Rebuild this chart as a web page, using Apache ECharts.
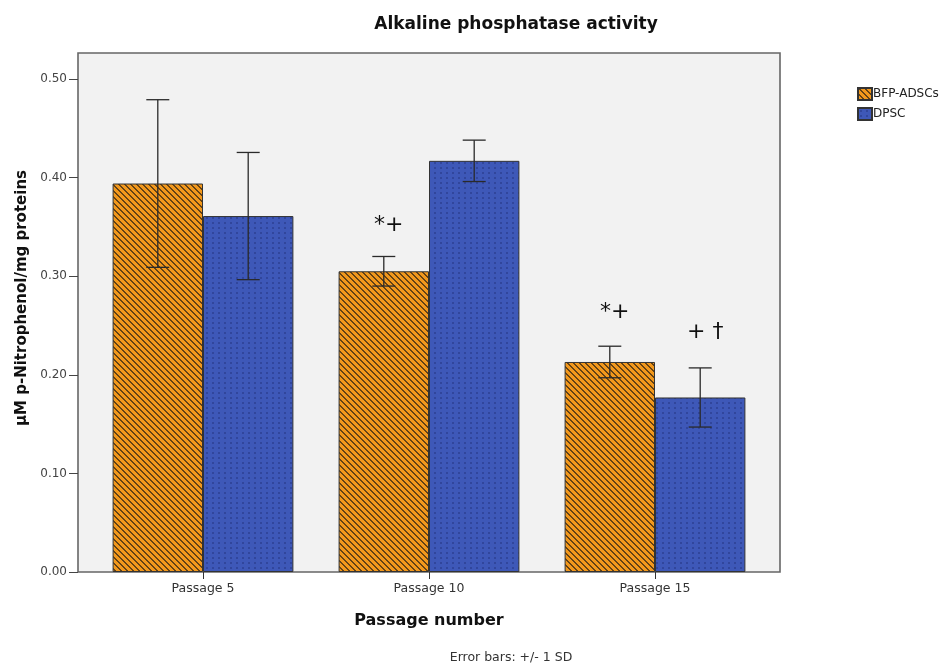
<!DOCTYPE html>
<html>
<head>
<meta charset="utf-8">
<script src="https://cdn.jsdelivr.net/npm/echarts@6/dist/echarts.min.js"></script>
<style>html,body{margin:0;padding:0;background:#fff;}#c{width:951px;height:666px;}</style>
</head>
<body>
<div id="c"></div>
<script>
// ---- data ----
var categories = ['Passage 5', 'Passage 10', 'Passage 15'];
var seriesNames = ['BFP-ADSCs', 'DPSC'];
var bfpMean = [0.394, 0.305, 0.213];
var bfpSD   = [0.085, 0.015, 0.016];
var dpscMean = [0.361, 0.417, 0.177];
var dpscSD   = [0.0645, 0.021, 0.030];
var yTicks = [0, 0.1, 0.2, 0.3, 0.4, 0.5];
// significance marks: [category index, series index, value, text]
var annotCat = [1, 2, 2];
var annotSeries = [0, 0, 1];
var annotValue = [0.352, 0.263, 0.243];
var annotText = ['*+', '*+', '+ \u2020'];

// ---- patterns ----
function stripePattern() {
  var n = 6, c = document.createElement('canvas');
  c.width = n; c.height = n;
  var ctx = c.getContext('2d');
  var img = ctx.createImageData(n, n);
  for (var y = 0; y < n; y++) for (var x = 0; x < n; x++) {
    var k = (y * n + x) * 4;
    var d = ((x - y) % n + n) % n;
    var dark = d < 2;
    img.data[k] = dark ? 100 : 242;
    img.data[k+1] = dark ? 66 : 152;
    img.data[k+2] = dark ? 22 : 28;
    img.data[k+3] = 255;
  }
  ctx.putImageData(img, 0, 0);
  return c;
}
function dotPattern() {
  var w = 6, h = 5, c = document.createElement('canvas');
  c.width = w; c.height = h;
  var ctx = c.getContext('2d');
  ctx.fillStyle = '#3e58b8';
  ctx.fillRect(0, 0, w, h);
  ctx.fillStyle = '#31469c';
  ctx.fillRect(2, 2, 2, 2);
  return c;
}
var orangeFill = { image: stripePattern(), repeat: 'repeat' };
var blueFill = { image: dotPattern(), repeat: 'repeat' };

var means = [bfpMean, dpscMean];
var sds = [bfpSD, dpscSD];
var errData = [];
for (var s = 0; s < 2; s++) for (var i = 0; i < categories.length; i++) {
  errData.push([i, means[s][i] - sds[s][i], means[s][i] + sds[s][i], s]);
}
var annData = [];
for (var a = 0; a < annotCat.length; a++) annData.push([annotCat[a], annotValue[a], annotSeries[a], annotText[a]]);

var FONT = 'DejaVu Sans, Liberation Sans, sans-serif';
var chart = echarts.init(document.getElementById('c'), null, {renderer: 'canvas'});
chart.setOption({
  animation: false,
  backgroundColor: '#fff',
  title: {
    text: 'Alkaline phosphatase activity',
    left: 511, top: 11, textAlign: 'center',
    textStyle: {fontFamily: FONT, fontSize: 17, fontWeight: 'bold', color: '#111'}
  },
  legend: {
    orient: 'vertical', left: 857, top: 87, padding: 0,
    itemWidth: 14, itemHeight: 12, itemGap: 6, icon: 'rect',
    textStyle: {fontFamily: FONT, fontSize: 12, color: '#222', padding: [0, 0, 0, -4]},
    data: seriesNames
  },
  graphic: [
    {type: 'rect', z: -10, silent: true,
     shape: {x: 78, y: 53, width: 702, height: 519},
     style: {fill: '#f2f2f2', stroke: '#666', lineWidth: 1.6}},
    {type: 'text', silent: true, x: 511, y: 658,
     style: {text: 'Error bars: +/- 1 SD', align: 'center', verticalAlign: 'middle',
             fontFamily: FONT, fontSize: 12.5, fill: '#333'}},
    {type: 'text', silent: true, x: 22, y: 298, rotation: Math.PI / 2,
     style: {text: '\u03bcM p-Nitrophenol/mg proteins', align: 'center', verticalAlign: 'middle',
             fontFamily: FONT, fontSize: 15, fontWeight: 'bold', fill: '#111'}}
  ],
  grid: {left: 90, right: 183, top: 79, bottom: 94},
  xAxis: {
    type: 'category', data: categories,
    axisLine: {show: false},
    axisTick: {show: true, alignWithLabel: true, length: 7, lineStyle: {color: '#333'}},
    axisLabel: {fontFamily: FONT, fontSize: 12.5, color: '#333', margin: 10},
    name: 'Passage number', nameLocation: 'middle', nameGap: 41,
    nameTextStyle: {fontFamily: FONT, fontSize: 16, fontWeight: 'bold', color: '#111'}
  },
  yAxis: {
    type: 'value', min: 0, max: 0.5, interval: 0.1, offset: 12,
    axisLine: {show: false},
    axisTick: {show: true, length: 9, lineStyle: {color: '#444'}},
    splitLine: {show: false},
    axisLabel: {fontFamily: FONT, fontSize: 12, color: '#444', margin: 11,
      formatter: function (v) { return v.toFixed(2); }}
  },
  series: [
    {name: seriesNames[0], type: 'bar', data: bfpMean, barWidth: '40%', barGap: '0%',
     itemStyle: {color: orangeFill, borderColor: '#333', borderWidth: 1}},
    {name: seriesNames[1], type: 'bar', data: dpscMean, barWidth: '40%', barGap: '0%',
     itemStyle: {color: blueFill, borderColor: '#333', borderWidth: 1}},
    {type: 'custom', data: errData, z: 10, silent: true,
     renderItem: function (params, api) {
       var band = api.size([1, 0])[0];
       var off = (api.value(3) === 0 ? -0.2 : 0.2) * band;
       var lo = api.coord([api.value(0), api.value(1)]);
       var hi = api.coord([api.value(0), api.value(2)]);
       var x = lo[0] + off, cw = 11.5;
       var st = {stroke: '#2a2a2a', lineWidth: 1.3};
       return {type: 'group', children: [
         {type: 'line', shape: {x1: x, y1: lo[1], x2: x, y2: hi[1]}, style: st},
         {type: 'line', shape: {x1: x - cw, y1: hi[1], x2: x + cw, y2: hi[1]}, style: st},
         {type: 'line', shape: {x1: x - cw, y1: lo[1], x2: x + cw, y2: lo[1]}, style: st}
       ]};
     }},
    {type: 'custom', data: annData, z: 11, silent: true,
     renderItem: function (params, api) {
       var band = api.size([1, 0])[0];
       var off = (api.value(2) === 0 ? -0.2 : 0.2) * band;
       var p = api.coord([api.value(0), api.value(1)]);
       return {type: 'text', style: {
         text: annData[params.dataIndex][3], x: p[0] + off + 5, y: p[1],
         align: 'center', verticalAlign: 'middle',
         fontFamily: FONT, fontSize: 22, fill: '#111'}};
     }}
  ]
});
</script>
</body>
</html>
